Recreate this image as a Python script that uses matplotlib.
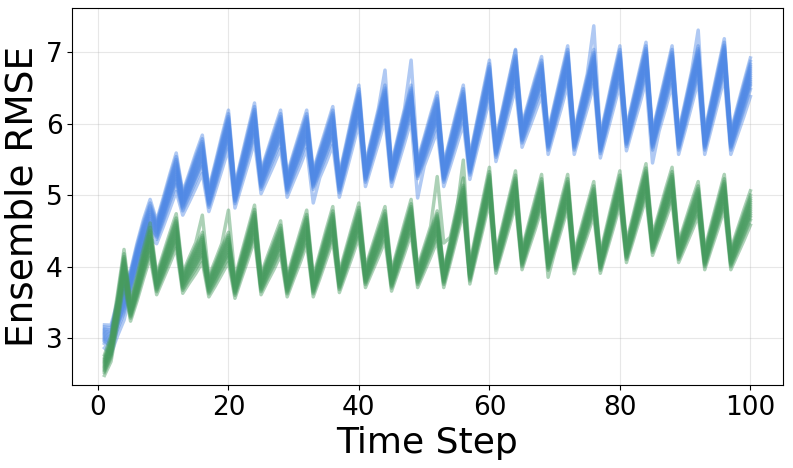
import numpy as np
import matplotlib

matplotlib.use('Agg')
from matplotlib import pyplot as plt

steps = list(range(1, 101))

# mean ensemble RMSE (trough at 4k+1, peak at 4k+4)
blue_mean = [
    3.04, 3.00, 3.30, 3.55, 3.80, 4.15, 4.45, 4.70, 4.50, 4.78, 5.07, 5.35,
    4.90, 5.13, 5.37, 5.60, 4.95, 5.28, 5.62, 5.95, 5.00, 5.35, 5.70, 6.05,
    5.20, 5.45, 5.70, 5.95, 5.15, 5.42, 5.68, 5.95, 5.20, 5.47, 5.73, 6.00,
    5.15, 5.53, 5.92, 6.30, 5.30, 5.65, 6.00, 6.35, 5.30, 5.65, 6.00, 6.35,
    5.35, 5.63, 5.92, 6.20, 5.30, 5.63, 5.97, 6.30, 5.40, 5.82, 6.23, 6.65,
    5.65, 6.03, 6.42, 6.80, 5.85, 6.13, 6.42, 6.70, 5.75, 6.12, 6.48, 6.85,
    5.75, 6.12, 6.48, 6.85, 5.70, 6.08, 6.47, 6.85, 5.80, 6.17, 6.53, 6.90,
    5.75, 6.12, 6.48, 6.85, 5.75, 6.13, 6.52, 6.90, 5.75, 6.15, 6.55, 6.95,
    5.75, 6.06, 6.37, 6.68,
]
green_mean = [
    2.62, 2.85, 3.40, 4.00, 3.38, 3.70, 4.05, 4.37, 3.75, 4.00, 4.25, 4.50,
    3.77, 3.95, 4.12, 4.30, 3.72, 3.91, 4.11, 4.30, 3.70, 4.01, 4.31, 4.62,
    3.75, 3.97, 4.18, 4.40, 3.72, 4.00, 4.27, 4.55, 3.72, 4.01, 4.31, 4.60,
    3.78, 4.07, 4.36, 4.65, 3.85, 4.10, 4.35, 4.60, 3.80, 4.10, 4.40, 4.70,
    3.85, 4.10, 4.35, 4.60, 3.85, 4.23, 4.62, 5.00, 3.90, 4.32, 4.73, 5.15,
    4.05, 4.40, 4.75, 5.10, 4.10, 4.42, 4.73, 5.05, 4.05, 4.38, 4.72, 5.05,
    4.05, 4.35, 4.65, 4.95, 4.05, 4.40, 4.75, 5.10, 4.20, 4.53, 4.87, 5.20,
    4.30, 4.58, 4.87, 5.15, 4.20, 4.45, 4.70, 4.95, 4.10, 4.42, 4.73, 5.05,
    4.10, 4.34, 4.58, 4.82,
]

# spread of the ensemble members around the mean (at the peaks)
blue_shifts = [-0.3, -0.2, -0.15, -0.12, -0.09, -0.06, -0.03, 0.0,
               0.03, 0.06, 0.09, 0.12, 0.15, 0.19, 0.24]
green_shifts = [-0.24, -0.17, -0.13, -0.1, -0.07, -0.04, -0.01, 0.02,
                0.05, 0.08, 0.11, 0.14, 0.18, 0.24]
# how wide the spread is at each position of the 4-step cycle
cycle_scale = [0.6, 0.75, 0.9, 1.0]

# single members that stick out: (member, step, value)
blue_outliers = [(14, 44, 6.75), (14, 48, 6.89), (14, 76, 7.37),
                 (14, 92, 7.31), (13, 64, 7.03), (0, 49, 4.96),
                 (0, 85, 5.45), (0, 33, 4.89)]
green_outliers = [(13, 16, 4.72), (13, 20, 4.79), (13, 52, 5.26),
                  (13, 53, 4.33), (12, 56, 5.49), (0, 73, 3.90),
                  (0, 69, 3.85)]


def members(mean, shifts, outliers):
    mean = np.asarray(mean)
    scale = np.array([cycle_scale[(t - 1) % 4] for t in steps])
    out = [mean + s * scale for s in shifts]
    for m, t, v in outliers:
        out[m][t - 1] = v
    return out


fig, ax = plt.subplots(figsize=(7.93, 4.68), dpi=100)

for y in members(blue_mean, blue_shifts, blue_outliers):
    ax.plot(steps, y, color='#5089e5', alpha=0.45, lw=2.5)
for y in members(green_mean, green_shifts, green_outliers):
    ax.plot(steps, y, color='#479b5f', alpha=0.45, lw=2.5)

ax.set_xlabel('Time Step', fontsize=26)
ax.set_ylabel('Ensemble RMSE', fontsize=27)
ax.tick_params(labelsize=19)
ax.set_yticks([3, 4, 5, 6, 7])
ax.set_xticks([0, 20, 40, 60, 80, 100])
ax.set_ylim(2.34, 7.62)
ax.grid(True, alpha=0.3)

fig.subplots_adjust(left=0.091, right=0.987, top=0.983, bottom=0.177)
fig.savefig('out.png')
